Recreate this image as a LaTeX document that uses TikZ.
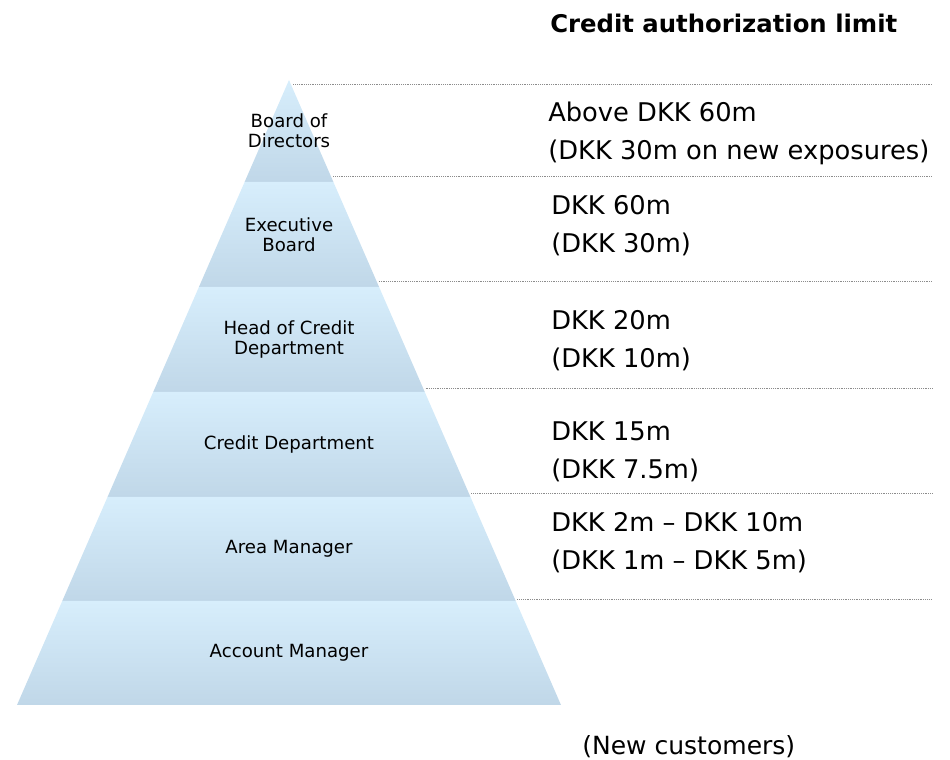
\documentclass[tikz,border=0pt]{standalone}
\usepackage{fontspec}
\setmainfont{DejaVu Sans}
\usepackage{xcolor}
\definecolor{bandtop}{RGB}{215,238,252}
\definecolor{bandbot}{RGB}{192,215,232}
\colorlet{sepcol}{black!45}
\tikzstyle{band}=[top color=bandtop,bottom color=bandbot,draw=none]
\tikzstyle{level}=[font=\fontsize{12.9}{14.2}\selectfont,align=center,inner sep=0]
\tikzstyle{limit}=[font=\fontsize{18.3}{27.4}\selectfont,align=left,anchor=base west,inner sep=0]
\tikzstyle{sep line}=[sepcol,line width=0.4pt,dash pattern=on 0.5pt off 0.8pt]

\begin{document}
\begin{tikzpicture}[x=0.025cm,y=-0.025cm]
  \def\xa{289}  % apex
  \def\ya{80}
  \def\sl{0.4352} % half width per unit of height
  \useasboundingbox (0,0) rectangle (950,760);

  % PYRAMID
  \foreach \i/\yt/\yb/\txt [evaluate={\lt=\sl*(\yt-\ya); \lb=\sl*(\yb-\ya);}] in
    {1/80/182/{Board of\\Directors}, 2/182/287/{Executive\\Board},
     3/287/392/{Head of Credit\\Department}, 4/392/497/{Credit Department},
     5/497/601/{Area Manager}, 6/601/705/{Account Manager}}{
    \shade[band] (\xa-\lt,\yt) -- (\xa+\lt,\yt) -- (\xa+\lb,\yb) -- (\xa-\lb,\yb) -- cycle;
    \node[level] (lvl\i) at (\xa,{(\yt+\yb)/2}) {\txt};
  }

  % LIMIT LINES
  \foreach \i/\y in {1/84,2/176,3/281,4/388,5/493,6/599}{
    \coordinate (sepL\i) at ({\xa+\sl*(\y-\ya)+2.5},\y);
    \coordinate (sepR\i) at (932,\y);
    \draw[sep line] (sepL\i) -- (sepR\i);
  }

  % LIMITS (base = last line)
  \node[anchor=base west,inner sep=0,font=\fontsize{17.3}{20}\selectfont\bfseries]
    (title) at (550,33) {Credit authorization limit};
  \node[limit] (lim1) at (548,160) {Above DKK 60m\\(DKK 30m on new exposures)};
  \node[limit] (lim2) at (551,253) {DKK 60m\\(DKK 30m)};
  \node[limit] (lim3) at (551,368) {DKK 20m\\(DKK 10m)};
  \node[limit] (lim4) at (551,479) {DKK 15m\\(DKK 7.5m)};
  \node[limit] (lim5) at (551,570) {DKK 2m – DKK 10m\\(DKK 1m – DKK 5m)};
  \node[limit,font=\fontsize{17.8}{20}\selectfont] (newcust) at (582,755) {(New customers)};
\end{tikzpicture}
\end{document}
